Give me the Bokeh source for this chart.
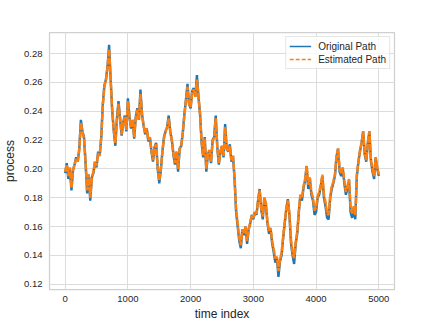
from bokeh.plotting import figure
from bokeh.models import Range1d, FixedTicker, NumeralTickFormatter, Legend, LegendItem
from bokeh.embed import file_html
from bokeh.resources import INLINE

# time index (step 25)
time_index = list(range(0, 5001, 25))

original_path = [
    0.197, 0.204, 0.193, 0.200, 0.185, 0.199, 0.203, 0.208, 0.205, 0.214,
    0.234, 0.226, 0.222, 0.204, 0.183, 0.196, 0.178, 0.194, 0.197, 0.205,
    0.201, 0.212, 0.209, 0.222, 0.245, 0.258, 0.262, 0.271, 0.286, 0.262,
    0.240, 0.226, 0.216, 0.235, 0.247, 0.235, 0.223, 0.232, 0.237, 0.226,
    0.249, 0.236, 0.228, 0.234, 0.221, 0.236, 0.242, 0.234, 0.255, 0.238,
    0.230, 0.224, 0.228, 0.219, 0.222, 0.212, 0.205, 0.215, 0.218, 0.200,
    0.190, 0.199, 0.212, 0.222, 0.226, 0.229, 0.237, 0.226, 0.220, 0.210,
    0.203, 0.212, 0.198, 0.214, 0.216, 0.225, 0.238, 0.248, 0.259, 0.245,
    0.242, 0.254, 0.256, 0.250, 0.265, 0.250, 0.238, 0.218, 0.208, 0.222,
    0.198, 0.210, 0.213, 0.204, 0.220, 0.222, 0.237, 0.215, 0.203, 0.212,
    0.216, 0.208, 0.231, 0.214, 0.212, 0.217, 0.205, 0.209, 0.193, 0.170,
    0.160, 0.150, 0.145, 0.158, 0.154, 0.160, 0.148, 0.158, 0.162, 0.168,
    0.165, 0.170, 0.168, 0.178, 0.186, 0.172, 0.165, 0.180, 0.175, 0.162,
    0.155, 0.158, 0.148, 0.142, 0.135, 0.138, 0.125, 0.136, 0.140, 0.152,
    0.162, 0.172, 0.179, 0.168, 0.148, 0.140, 0.134, 0.148, 0.155, 0.170,
    0.182, 0.178, 0.187, 0.192, 0.202, 0.186, 0.193, 0.182, 0.178, 0.168,
    0.170, 0.180, 0.182, 0.188, 0.195, 0.180, 0.174, 0.166, 0.165, 0.180,
    0.186, 0.190, 0.195, 0.208, 0.214, 0.198, 0.195, 0.200, 0.190, 0.182,
    0.186, 0.192, 0.170, 0.166, 0.172, 0.165, 0.195, 0.205, 0.212, 0.218,
    0.226, 0.210, 0.205, 0.218, 0.226, 0.205, 0.198, 0.193, 0.208, 0.200,
    0.195,
]

estimated_path = [
    0.198, 0.203, 0.195, 0.201, 0.187, 0.199, 0.203, 0.207, 0.205, 0.213,
    0.232, 0.226, 0.221, 0.205, 0.185, 0.196, 0.180, 0.194, 0.198, 0.205,
    0.202, 0.211, 0.209, 0.222, 0.244, 0.257, 0.262, 0.270, 0.283, 0.262,
    0.240, 0.227, 0.218, 0.234, 0.245, 0.235, 0.224, 0.232, 0.236, 0.227,
    0.247, 0.236, 0.229, 0.234, 0.222, 0.235, 0.241, 0.234, 0.252, 0.238,
    0.230, 0.225, 0.228, 0.220, 0.222, 0.213, 0.206, 0.215, 0.217, 0.201,
    0.192, 0.200, 0.212, 0.221, 0.226, 0.229, 0.235, 0.226, 0.220, 0.211,
    0.204, 0.212, 0.200, 0.214, 0.216, 0.225, 0.237, 0.247, 0.257, 0.245,
    0.243, 0.253, 0.255, 0.250, 0.262, 0.250, 0.238, 0.219, 0.209, 0.221,
    0.200, 0.210, 0.213, 0.205, 0.219, 0.222, 0.235, 0.215, 0.204, 0.212,
    0.216, 0.209, 0.229, 0.214, 0.212, 0.216, 0.206, 0.209, 0.194, 0.172,
    0.162, 0.152, 0.147, 0.158, 0.155, 0.160, 0.150, 0.158, 0.163, 0.168,
    0.166, 0.170, 0.169, 0.178, 0.185, 0.173, 0.167, 0.180, 0.176, 0.163,
    0.157, 0.159, 0.150, 0.144, 0.138, 0.139, 0.129, 0.137, 0.142, 0.153,
    0.163, 0.173, 0.178, 0.169, 0.151, 0.142, 0.138, 0.149, 0.157, 0.171,
    0.182, 0.180, 0.188, 0.193, 0.202, 0.189, 0.194, 0.184, 0.180, 0.171,
    0.173, 0.181, 0.184, 0.189, 0.196, 0.182, 0.177, 0.169, 0.168, 0.181,
    0.188, 0.191, 0.196, 0.209, 0.214, 0.200, 0.197, 0.201, 0.192, 0.184,
    0.188, 0.193, 0.173, 0.169, 0.174, 0.168, 0.196, 0.205, 0.213, 0.218,
    0.226, 0.211, 0.206, 0.218, 0.226, 0.206, 0.200, 0.195, 0.208, 0.201,
    0.196,
]

series_names = ["Original Path", "Estimated Path"]
x_ticks = [0, 1000, 2000, 3000, 4000, 5000]
y_ticks = [0.12, 0.14, 0.16, 0.18, 0.20, 0.22, 0.24, 0.26, 0.28]

FONT = "Liberation Sans"
TXT = "#262626"
GRID = "#dcdcdc"
BLUE = "#1f77b4"
ORANGE = "#ff7f0e"
NAN = float("nan")

p = figure(frame_width=345, frame_height=257,
           x_range=Range1d(-250, 5250), y_range=Range1d(0.1163, 0.2946),
           output_backend="svg", toolbar_location=None,
           min_border_left=48, min_border_right=36,
           min_border_top=32, min_border_bottom=29,
           background_fill_color="white", border_fill_color="white")

p.outline_line_color = "#d0d0d0"
p.outline_line_width = 1.25

p.line(time_index, original_path, line_color=BLUE, line_width=2.4)
p.line(time_index, estimated_path, line_color=ORANGE, line_width=2.5,
       line_dash="7 1")

# thin legend glyphs (a single undrawn NaN point each)
lg_blue = p.line([NAN], [NAN], line_color=BLUE, line_width=1.5)
lg_orange = p.line([NAN], [NAN], line_color=ORANGE, line_width=1.5, line_dash="4 2")

p.xaxis.ticker = FixedTicker(ticks=x_ticks)
p.yaxis.ticker = FixedTicker(ticks=y_ticks)
p.xaxis.formatter = NumeralTickFormatter(format="0")
p.yaxis.formatter = NumeralTickFormatter(format="0.00")

for ax in (p.xaxis, p.yaxis):
    ax.axis_line_color = None
    ax.major_tick_line_color = None
    ax.minor_tick_line_color = None
    ax.major_tick_out = 0
    ax.major_tick_in = 0
    ax.major_label_text_font = FONT
    ax.major_label_text_font_size = "9.5px"
    ax.major_label_text_color = TXT
    ax.axis_label_text_font = FONT
    ax.axis_label_text_font_size = "12px"
    ax.axis_label_text_font_style = "normal"
    ax.axis_label_text_color = TXT

p.xaxis.axis_label = "time index"
p.yaxis.axis_label = "process"
p.xaxis.major_label_standoff = 6
p.yaxis.major_label_standoff = 7
p.xaxis.axis_label_standoff = 2
p.yaxis.axis_label_standoff = 4

p.xgrid.grid_line_color = GRID
p.ygrid.grid_line_color = GRID
p.xgrid.grid_line_width = 1
p.ygrid.grid_line_width = 1

lg = Legend(items=[LegendItem(label=series_names[0], renderers=[lg_blue]),
                   LegendItem(label=series_names[1], renderers=[lg_orange])],
            location="top_right")
lg.margin = 4
lg.padding = 3
lg.spacing = 1
lg.glyph_width = 22
lg.glyph_height = 12
lg.label_height = 12
lg.label_standoff = 7
lg.label_text_font = FONT
lg.label_text_font_size = "10px"
lg.label_text_color = TXT
lg.border_line_color = "#cccccc"
lg.border_line_width = 1
lg.background_fill_color = "white"
lg.background_fill_alpha = 0.8
p.add_layout(lg, "center")

open("out.html", "w").write(file_html(p, INLINE))
